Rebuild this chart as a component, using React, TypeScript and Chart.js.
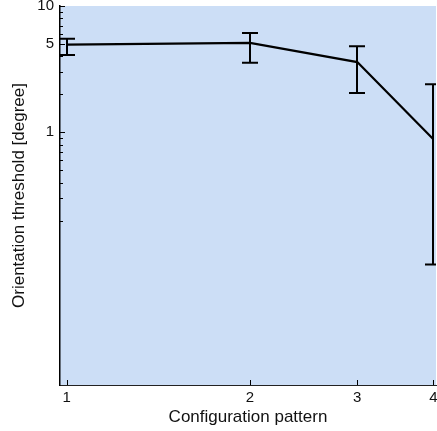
import React, { useEffect, useRef } from 'react';
import { Chart, registerables } from 'chart.js';
Chart.register(...registerables);

const patterns = [1, 2, 3, 4];
const thresholds = [4.95, 5.1, 3.6, 0.88];
const errUpper = [5.5, 6.1, 4.8, 2.4];
const errLower = [4.1, 3.55, 2.05, 0.09];
const xTickValues = [1, 2, 3, 4];
const yMajorTicks = [1, 5, 10];
const yMinorTicks = [0.2, 0.3, 0.4, 0.5, 0.6, 0.7, 0.8, 0.9, 2, 3, 4, 6, 7, 8, 9];
const xTitle = 'Configuration pattern';
const yTitle = 'Orientation threshold [degree]';

const FONT = "'Liberation Sans', Arial, sans-serif";

const bgPlugin = {
  id: 'bgPlugin',
  beforeDraw(chart: any) {
    const { ctx, chartArea } = chart;
    ctx.save();
    ctx.fillStyle = '#CCDEF6';
    ctx.fillRect(chartArea.left, chartArea.top, chartArea.right - chartArea.left, chartArea.bottom - chartArea.top);
    ctx.restore();
  },
};

const decorPlugin = {
  id: 'decorPlugin',
  afterDatasetsDraw(chart: any) {
    const { ctx, chartArea, scales } = chart;
    const xs = scales.x;
    const ys = scales.y;
    ctx.save();
    ctx.beginPath();
    ctx.rect(chartArea.left, chartArea.top - 2, chartArea.right - chartArea.left, chartArea.bottom - chartArea.top + 4);
    ctx.clip();
    ctx.strokeStyle = '#000';
    ctx.lineWidth = 2;
    const cap = 8;
    patterns.forEach((p, i) => {
      const x = Math.round(xs.getPixelForValue(p));
      const yt = ys.getPixelForValue(errUpper[i]);
      const yb = ys.getPixelForValue(errLower[i]);
      ctx.beginPath();
      ctx.moveTo(x, yt);
      ctx.lineTo(x, yb);
      ctx.moveTo(x - cap, yt);
      ctx.lineTo(x + cap, yt);
      ctx.moveTo(x - cap, yb);
      ctx.lineTo(x + cap, yb);
      ctx.stroke();
    });
    ctx.restore();

    ctx.save();
    ctx.strokeStyle = '#000';
    ctx.lineWidth = 1;
    ctx.beginPath();
    xTickValues.forEach((v) => {
      const x = Math.round(xs.getPixelForValue(v)) + 0.5;
      ctx.moveTo(x, chartArea.bottom);
      ctx.lineTo(x, chartArea.bottom - 5);
    });
    yMajorTicks.forEach((v) => {
      const y = Math.round(ys.getPixelForValue(v)) + 0.5;
      ctx.moveTo(chartArea.left, y);
      ctx.lineTo(chartArea.left + 5, y);
    });
    yMinorTicks.forEach((v) => {
      const y = Math.round(ys.getPixelForValue(v)) + 0.5;
      ctx.moveTo(chartArea.left, y);
      ctx.lineTo(chartArea.left + 3, y);
    });
    ctx.stroke();
    ctx.restore();
  },
};

export default function App() {
  const ref = useRef<HTMLCanvasElement>(null);
  useEffect(() => {
    if (!ref.current) return;
    const chart = new Chart(ref.current, {
      type: 'line',
      data: {
        datasets: [
          {
            data: patterns.map((p, i) => ({ x: p, y: thresholds[i] })),
            borderColor: '#000',
            borderWidth: 2.2,
            pointRadius: 0,
            tension: 0,
            fill: false,
          },
        ],
      },
      options: {
        animation: false,
        responsive: false,
        maintainAspectRatio: false,
        layout: { padding: { top: 6, right: 1, left: 0, bottom: 0 } },
        plugins: { legend: { display: false }, tooltip: { enabled: false } },
        scales: {
          x: {
            type: 'logarithmic',
            min: 0.975,
            max: 4.04,
            afterBuildTicks: (s: any) => {
              s.ticks = xTickValues.map((v) => ({ value: v }));
            },
            afterFit: (s: any) => {
              s.height = 46;
              s.paddingLeft = 0;
              s.paddingRight = 0;
            },
            ticks: {
              autoSkip: false,
              maxRotation: 0,
              padding: 4,
              color: '#111',
              font: { family: FONT, size: 15 },
              callback: (v: any) => String(v),
            },
            grid: { display: false, drawTicks: false, tickLength: 0 },
            border: { display: true, color: '#222', width: 1 },
            title: {
              display: true,
              text: xTitle,
              color: '#111',
              font: { family: FONT, size: 17 },
              padding: { top: 0, bottom: 3 },
            },
          },
          y: {
            type: 'logarithmic',
            min: 0.01,
            max: 10,
            afterBuildTicks: (s: any) => {
              s.ticks = yMajorTicks.map((v) => ({ value: v }));
            },
            afterFit: (s: any) => {
              s.width = 60;
              s.paddingTop = 0;
              s.paddingBottom = 0;
            },
            ticks: {
              autoSkip: false,
              padding: 6,
              color: '#111',
              font: { family: FONT, size: 15 },
              callback: (v: any) => String(v),
            },
            grid: { display: false, drawTicks: false, tickLength: 0 },
            border: { display: true, color: '#000', width: 1.5 },
            title: {
              display: true,
              text: yTitle,
              color: '#111',
              font: { family: FONT, size: 17 },
              padding: { top: 9, bottom: 0 },
            },
          },
        },
      },
      plugins: [bgPlugin, decorPlugin],
    } as any);
    return () => chart.destroy();
  }, []);
  return (
    <div style={{ position: 'fixed', left: 0, top: 0, width: 437, height: 431, background: '#fff' }}>
      <canvas ref={ref} width={437} height={431} style={{ width: 437, height: 431, display: 'block' }} />
    </div>
  );
}
